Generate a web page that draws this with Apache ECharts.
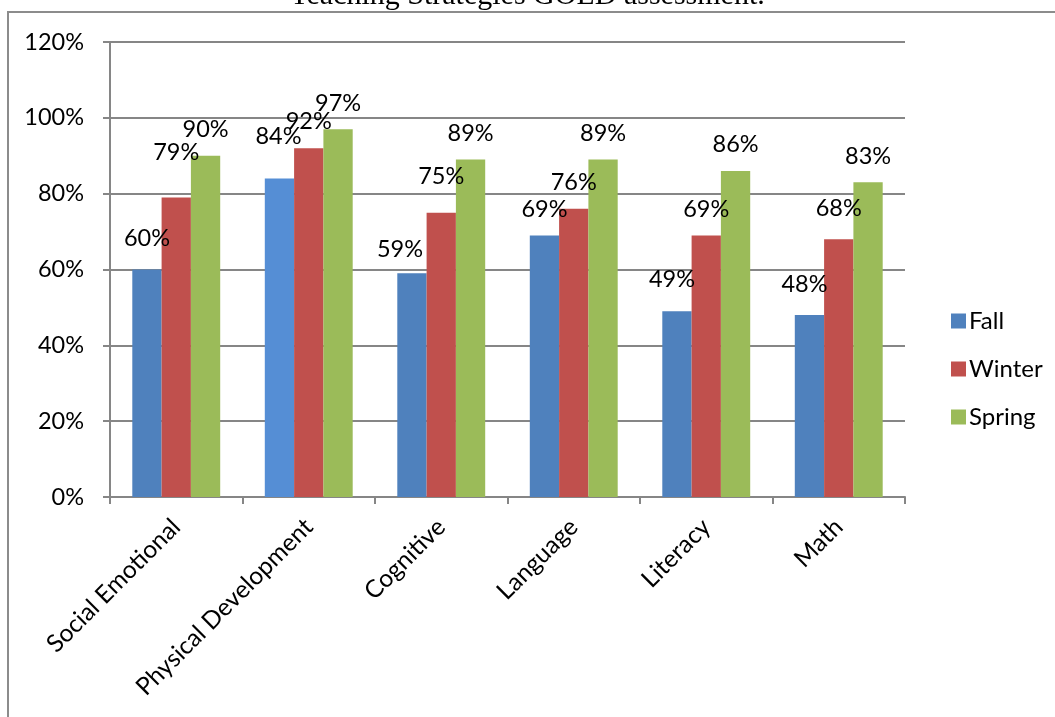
<!DOCTYPE html>
<html>
<head>
<meta charset="utf-8">
<script src="https://cdn.jsdelivr.net/npm/echarts@6/dist/echarts.min.js"></script>
<style>
html,body{margin:0;padding:0;background:#fff;}
#chart{width:1055px;height:717px;}
</style>
</head>
<body>
<div id="chart"></div>
<script>
const titleText = 'Teaching Strategies GOLD assessment.';
const categories = ['Social Emotional', 'Physical Development', 'Cognitive', 'Language', 'Literacy', 'Math'];
const seriesNames = ['Fall', 'Winter', 'Spring'];
const fall = [0.60, 0.84, 0.59, 0.69, 0.49, 0.48];
const winter = [0.79, 0.92, 0.75, 0.76, 0.69, 0.68];
const spring = [0.90, 0.97, 0.89, 0.89, 0.86, 0.83];
const yTicks = [0, 0.2, 0.4, 0.6, 0.8, 1.0, 1.2];

// label nudges (style only): [dx, extra lift in px] per series per category
const labelNudge = [
  [[0,5],[-1,16],[-12,-2],[0,0],[-5,6],[-5,5]],
  [[0,19],[0,1],[0,10],[0,0],[0,0],[0,5]],
  [[0,0],[0,0],[0,0],[0,0],[0,0],[0,0]]
];
const colors = ['#4F81BD', '#C0504D', '#9BBB59'];
const FONT = 'Lato';

const chart = echarts.init(document.getElementById('chart'));
const seriesData = [fall, winter, spring];

function pct(v){ return Math.round(v*100) + '%'; }

const series = seriesData.map((arr, si) => ({
  name: seriesNames[si],
  type: 'bar',
  barWidth: 29.3,
  barGap: '0%',
  itemStyle: { color: colors[si] },
  data: arr.map((v, ci) => {
    const item = {
      value: v,
      label: { offset: [labelNudge[si][ci][0], -labelNudge[si][ci][1]] }
    };
    if (si === 0 && ci === 1) item.itemStyle = { color: '#558ED5' };
    return item;
  }),
  label: {
    show: true,
    position: 'top',
    distance: 14,
    formatter: p => pct(p.value),
    fontFamily: FONT,
    fontSize: 23.5,
    color: '#000'
  }
}));

chart.setOption({
  animation: false,
  graphic: [
    {
      type: 'rect',
      shape: { x: 8, y: 12, width: 1200, height: 900 },
      style: { fill: 'none', stroke: '#8c8c8c', lineWidth: 2 },
      z: -1
    },
    {
      type: 'text',
      left: 'center',
      top: -19,
      style: { text: titleText, font: '30px "Liberation Serif"', fill: '#000' }
    }
  ],
  legend: {
    orient: 'vertical',
    left: 946,
    top: 304,
    itemWidth: 15,
    itemHeight: 15,
    itemGap: 24,
    icon: 'rect',
    textStyle: { fontFamily: FONT, fontSize: 24, color: '#000', padding: [0,0,0,-2] },
    data: seriesNames
  },
  grid: { left: 110, right: 150, top: 42, bottom: 220, containLabel: false },
  xAxis: {
    type: 'category',
    data: categories,
    axisLine: { lineStyle: { color: '#868686', width: 2 } },
    axisTick: { show: true, length: 7, alignWithLabel: false, lineStyle: { color: '#868686', width: 2 } },
    axisLabel: { rotate: 45, margin: 26, fontFamily: FONT, fontSize: 24.5, color: '#000', interval: 0 }
  },
  yAxis: {
    type: 'value',
    min: 0,
    max: 1.2,
    interval: 0.2,
    axisLine: { show: true, lineStyle: { color: '#868686', width: 2 } },
    axisTick: { show: true, length: 7, lineStyle: { color: '#868686', width: 2 } },
    splitLine: { lineStyle: { color: '#868686', width: 2 } },
    axisLabel: {
      margin: 26,
      fontFamily: FONT,
      fontSize: 23.5,
      color: '#000',
      formatter: v => {
        const m = yTicks.find(t => Math.abs(t - v) < 1e-6);
        return pct(m === undefined ? v : m);
      }
    }
  },
  series: series
});
</script>
</body>
</html>
